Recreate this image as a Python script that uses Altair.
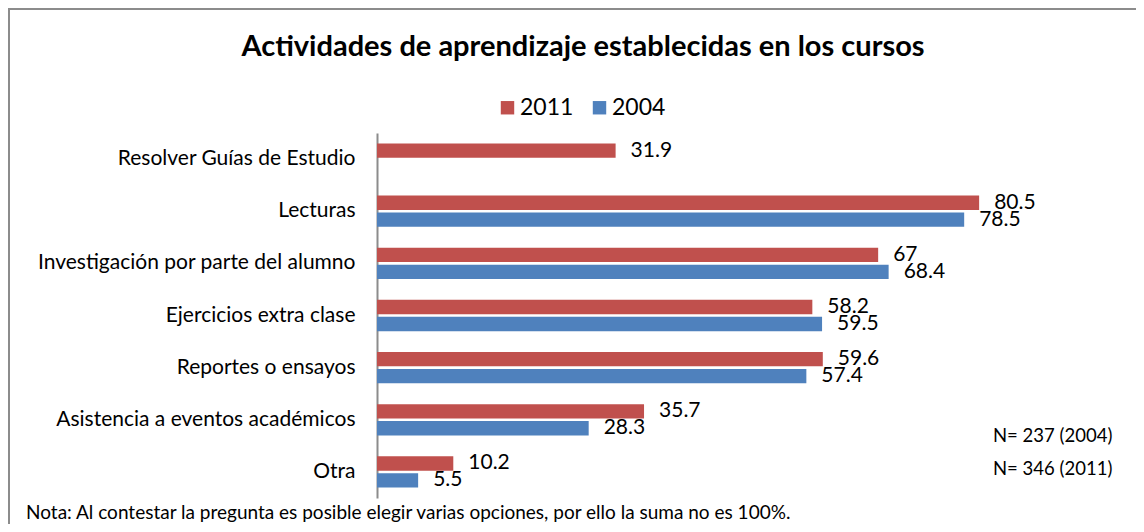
import altair as alt
import pandas as pd

categories = [
    "Resolver Guías de Estudio ",
    "Lecturas",
    "Investigación por parte del alumno ",
    "Ejercicios extra clase",
    "Reportes o ensayos",
    "Asistencia a eventos académicos",
    "Otra",
]
values_2011 = [31.9, 80.5, 67, 58.2, 59.6, 35.7, 10.2]
values_2004 = [None, 78.5, 68.4, 59.5, 57.4, 28.3, 5.5]
series = ["2011", "2004"]
colors = ["#C0504D", "#4F81BD"]

title_text = "Actividades de aprendizaje establecidas en los cursos"
note_text = "Nota: Al contestar la pregunta es posible elegir varias opciones, por ello la suma no es 100%."
n_2004 = "N= 237 (2004)"
n_2011 = "N= 346 (2011)"

rows = []
for c, v in zip(categories, values_2011):
    rows.append({"cat": c, "serie": "2011", "valor": v})
for c, v in zip(categories, values_2004):
    if v is not None:
        rows.append({"cat": c, "serie": "2004", "valor": v})
df = pd.DataFrame(rows)
df["etiqueta"] = df["valor"].map(lambda v: f"{v:g}")

FONT = "Lato"

y_enc = alt.Y(
    "cat:N",
    sort=categories,
    scale=alt.Scale(paddingInner=0.4, paddingOuter=0.2),
    axis=alt.Axis(
        title=None,
        labelFontSize=21,
        labelFont=FONT,
        labelColor="black",
        labelPadding=22,
        ticks=False,
        tickSize=0,
        domainColor="#8c8c8c",
        domainWidth=2,
        labelLimit=500,
    ),
)
x_enc = alt.X("valor:Q", scale=alt.Scale(domain=[0, 100]), axis=None)
yoff = alt.YOffset("serie:N", sort=series, scale=alt.Scale(paddingInner=0.15, paddingOuter=0))
color = alt.Color(
    "serie:N",
    sort=series,
    scale=alt.Scale(domain=series, range=colors),
    legend=alt.Legend(
        title=None,
        orient="none",
        legendX=119,
        legendY=-37,
        direction="horizontal",
        symbolType="square",
        symbolSize=180,
        symbolStrokeWidth=0,
        symbolOpacity=1,
        labelFontSize=23,
        labelFont=FONT,
        labelColor="black",
        labelOffset=1,
        columnPadding=14,
        padding=0,
    ),
)

base = alt.Chart(df)
bars = base.mark_bar(opacity=1).encode(x=x_enc, y=y_enc, yOffset=yoff, color=color)
labels = base.mark_text(
    align="left", baseline="middle", dx=15, fontSize=21, font=FONT, color="black"
).encode(x=x_enc, y=y_enc, yOffset=yoff, text="etiqueta:N")

one = alt.Data(values=[{}])
border = alt.Chart(one).mark_rect(
    fillOpacity=0, stroke="#8c8c8c", strokeWidth=2
).encode(x=alt.value(-368), x2=alt.value(800), y=alt.value(-124), y2=alt.value(430))

title = alt.Chart(one).mark_text(
    align="center", baseline="alphabetic", fontSize=29, font=FONT, fontWeight="bold", color="black"
).encode(x=alt.value(206), y=alt.value(-77), text=alt.value(title_text))
note = alt.Chart(one).mark_text(
    align="left", baseline="alphabetic", fontSize=19, font=FONT, color="black"
).encode(x=alt.value(-351), y=alt.value(386), text=alt.value(note_text))
n1 = alt.Chart(one).mark_text(
    align="left", baseline="alphabetic", fontSize=18.5, font=FONT, color="black"
).encode(x=alt.value(616), y=alt.value(309), text=alt.value(n_2004))
n2 = alt.Chart(one).mark_text(
    align="left", baseline="alphabetic", fontSize=18.5, font=FONT, color="black"
).encode(x=alt.value(616), y=alt.value(342), text=alt.value(n_2011))

chart = (
    alt.layer(border, title, bars, labels, note, n1, n2)
    .properties(
        width=748,
        height=365,
        padding={"left": 369, "top": 125, "right": 11, "bottom": 26},
        autosize=alt.AutoSizeParams(type="none"),
    )
    .configure_view(stroke=None)
)

chart.save("out.html", embed_options={"renderer": "svg", "actions": False})
